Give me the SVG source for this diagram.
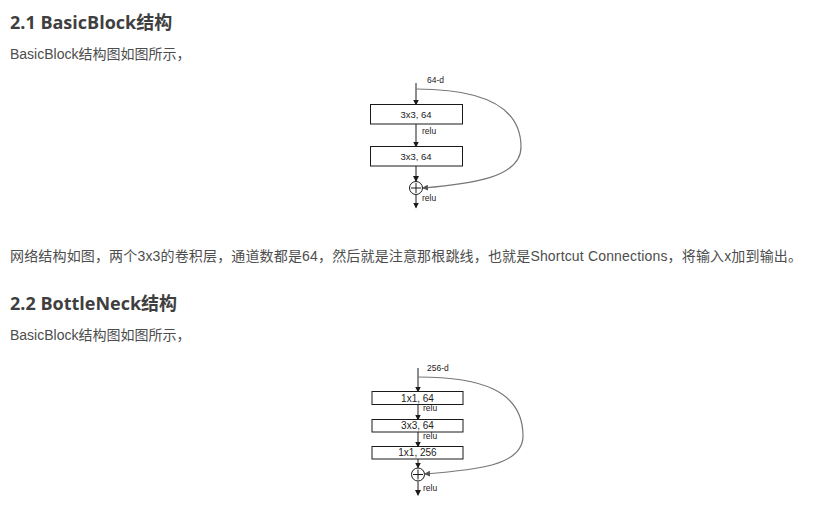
<svg xmlns="http://www.w3.org/2000/svg" width="835" height="514" viewBox="0 0 835 514">
<style>
.h{font-family:"Open Sans","Noto Sans CJK SC",sans-serif;font-weight:bold;font-size:18px;fill:#3f3f3f}
.p{font-family:"Liberation Sans","Noto Sans CJK SC",sans-serif;font-size:14px;fill:#4d4d4d}
.box{fill:#fff;stroke:#1a1a1a;stroke-width:1}
.bt{font-family:"Liberation Sans",sans-serif;font-size:9.5px;fill:#222;text-anchor:middle}
.bt2{font-family:"Liberation Sans",sans-serif;font-size:10px;fill:#222;text-anchor:middle}
.sm{font-family:"Liberation Sans",sans-serif;font-size:8.5px;fill:#222}
.ln{stroke:#1a1a1a;stroke-width:1;fill:none;marker-end:url(#ah)}
.sc{stroke:#777;stroke-width:1.2;fill:none;marker-end:url(#ah2)}
.op{fill:#fff;stroke:#1a1a1a;stroke-width:1}
</style>
<defs>
<marker id="ah" markerWidth="6" markerHeight="6" refX="5" refY="3" orient="auto" markerUnits="userSpaceOnUse"><path d="M0,0 L6,3 L0,6 z" fill="#1a1a1a"/></marker>
<marker id="ah2" markerWidth="6" markerHeight="6" refX="5" refY="3" orient="auto" markerUnits="userSpaceOnUse"><path d="M0,0 L6,3 L0,6 z" fill="#555"/></marker>
</defs>
<rect width="835" height="514" fill="#fff"/>
<text class="h" x="10" y="29">2.1 BasicBlock结构</text>
<text class="p" x="10" y="59">BasicBlock结构图如图所示，</text>
<text class="p" x="10" y="261" textLength="792" lengthAdjust="spacing">网络结构如图，两个3x3的卷积层，通道数都是64，然后就是注意那根跳线，也就是Shortcut Connections，将输入x加到输出。</text>
<text class="h" x="10" y="310">2.2 BottleNeck结构</text>
<text class="p" x="10" y="340">BasicBlock结构图如图所示，</text>

<g id="connectors">
<path class="ln" d="M416,83 V104.5"/>
<path class="ln" d="M416,124 V146.5"/>
<path class="ln" d="M416,166 V181"/>
<path class="ln" d="M416,195 V207.5"/>
<path class="sc" d="M416,89 C470,89 521,100 521,147 C521,178 470,184 423,188"/>
<path class="ln" d="M418,368 V391.5"/>
<path class="ln" d="M418,404.5 V419.5"/>
<path class="ln" d="M418,432 V446.5"/>
<path class="ln" d="M418,459 V467.5"/>
<path class="ln" d="M418,481.5 V495"/>
<path class="sc" d="M418,377 C480,377 523,390 523,436 C523,466 475,470 425,474"/>
</g>
<g id="b1-in"><text class="sm" x="427" y="83">64-d</text></g>
<g id="b1-conv1"><rect class="box" x="370.5" y="104.5" width="92" height="19.5"/><text class="bt" x="416" y="117.5">3x3, 64</text></g>
<g id="b1-relu1"><text class="sm" x="422" y="133.5">relu</text></g>
<g id="b1-conv2"><rect class="box" x="370.5" y="146.5" width="92" height="19.5"/><text class="bt" x="416" y="159.5">3x3, 64</text></g>
<g id="b1-add"><circle class="op" cx="416" cy="188" r="6.5"/><path d="M416,183 V193 M411,188 H421" stroke="#1a1a1a" stroke-width="1"/></g>
<g id="b1-relu2"><text class="sm" x="422" y="201">relu</text></g>

<g id="b2-in"><text class="sm" x="427" y="371">256-d</text></g>
<g id="b2-conv1"><rect class="box" x="372" y="391.5" width="91" height="13"/><text class="bt2" x="417.5" y="401.5">1x1, 64</text></g>
<g id="b2-relu1"><text class="sm" x="423" y="411">relu</text></g>
<g id="b2-conv2"><rect class="box" x="372" y="419.5" width="91" height="12.5"/><text class="bt2" x="417.5" y="429">3x3, 64</text></g>
<g id="b2-relu2"><text class="sm" x="423" y="439">relu</text></g>
<g id="b2-conv3"><rect class="box" x="372" y="446.5" width="91" height="12.5"/><text class="bt2" x="417.5" y="456">1x1, 256</text></g>
<g id="b2-add"><circle class="op" cx="418" cy="474.5" r="6.5"/><path d="M418,469.5 V479.5 M413,474.5 H423" stroke="#1a1a1a" stroke-width="1"/></g>
<g id="b2-relu3"><text class="sm" x="423" y="490.5">relu</text></g>
</svg>
